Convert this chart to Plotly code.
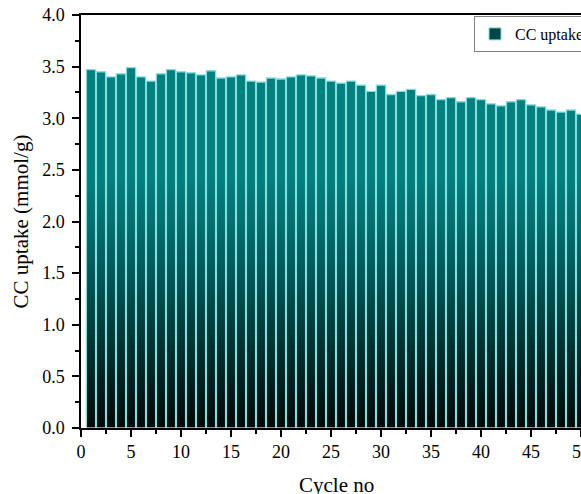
import numpy as np
import plotly.graph_objects as go

cycles = list(range(1, 51))
uptake = [3.47, 3.45, 3.40, 3.43, 3.49, 3.40, 3.36, 3.43, 3.47, 3.45,
          3.44, 3.42, 3.46, 3.39, 3.40, 3.42, 3.36, 3.35, 3.39, 3.38,
          3.40, 3.42, 3.41, 3.39, 3.36, 3.34, 3.36, 3.32, 3.26, 3.32,
          3.23, 3.26, 3.28, 3.22, 3.23, 3.18, 3.20, 3.16, 3.20, 3.18,
          3.14, 3.12, 3.16, 3.18, 3.13, 3.11, 3.08, 3.06, 3.08, 3.04]
series_name = "CC uptake"
x_ticks = [0, 5, 10, 15, 20, 25, 30, 35, 40, 45, 50]

FONT = "Liberation Serif"
EDGE = "#86dcdc"
# gradient stops (value level -> rgb)
grad_levels = [0.0, 0.5, 1.0, 1.5, 2.0, 2.4]
grad_colors = [(0, 8, 8), (0, 34, 34), (0, 62, 62), (0, 88, 88), (0, 112, 112), (0, 126, 126)]

def col_at(v):
    r = np.interp(v, grad_levels, [c[0] for c in grad_colors])
    g = np.interp(v, grad_levels, [c[1] for c in grad_colors])
    b = np.interp(v, grad_levels, [c[2] for c in grad_colors])
    return f"rgb({int(r)},{int(g)},{int(b)})"

vals = np.array(uptake)
fig = go.Figure()
BW = 0.92
step = 0.05
overlap = 0.03
top_level = 2.4
lo = 0.0
while lo < top_level - 1e-9:
    seg = np.clip(vals - lo, 0, step + overlap)
    fig.add_trace(go.Bar(x=cycles, y=seg, base=[lo] * len(cycles), width=BW,
                         marker=dict(color=col_at(lo + step / 2), line=dict(width=0)),
                         showlegend=False, hoverinfo="skip"))
    lo += step
seg = np.clip(vals - top_level, 0, None)
fig.add_trace(go.Bar(x=cycles, y=seg, base=[top_level] * len(cycles), width=BW,
                     marker=dict(color="rgb(0,127,127)", line=dict(width=0)),
                     showlegend=False, hoverinfo="skip"))
# outlines
fig.add_trace(go.Bar(x=cycles, y=uptake, width=BW,
                     marker=dict(color="rgba(0,0,0,0)", line=dict(color=EDGE, width=1.3)),
                     showlegend=False))
# legend entry
fig.add_trace(go.Bar(x=[None], y=[None], name=series_name,
                     marker=dict(color="rgb(0,70,70)", line=dict(color=EDGE, width=1))))

fig.update_layout(
    width=581, height=494,
    barmode="overlay",
    plot_bgcolor="white", paper_bgcolor="white",
    margin=dict(l=81, r=0, t=15, b=66, autoexpand=False),
    font=dict(family=FONT, size=18, color="black"),
    legend=dict(x=0.786, y=0.9976, xanchor="left", yanchor="top",
                bordercolor="#808080", borderwidth=1, bgcolor="white",
                font=dict(family=FONT, size=16), itemwidth=30,
                tracegroupgap=0),
    annotations=[dict(text="Cycle no", x=25.5, xref="x", y=-0.138, yref="paper",
                      showarrow=False, xanchor="center", yanchor="middle",
                      font=dict(family=FONT, size=21))],
)
fig.update_xaxes(range=[0, 50], tickvals=x_ticks, ticktext=[str(t) for t in x_ticks],
                 ticks="outside", ticklen=7, tickwidth=1.5, tickcolor="black",
                 minor=dict(dtick=2.5, tick0=0, ticks="outside", ticklen=4, tickwidth=1.5, tickcolor="black"),
                 showline=True, linecolor="black", linewidth=1.5, mirror=True,
                 showgrid=False, zeroline=False, automargin=False,
                 ticklabeloverflow="allow",
                 tickfont=dict(family=FONT, size=18))
fig.update_yaxes(range=[0, 4.0], dtick=0.5, tick0=0, tickformat=".1f",
                 ticks="outside", ticklen=7, tickwidth=1.5, tickcolor="black",
                 minor=dict(dtick=0.25, tick0=0, ticks="outside", ticklen=4, tickwidth=1.5, tickcolor="black"),
                 showline=True, linecolor="black", linewidth=1.5, mirror=True,
                 showgrid=False, zeroline=False, automargin=False,
                 ticklabelstandoff=4,
                 title=dict(text="CC uptake (mmol/g)", font=dict(family=FONT, size=21), standoff=8),
                 tickfont=dict(family=FONT, size=18))

fig.write_html("out.html", config={"displayModeBar": False},
               post_script="document.body.style.margin='0';document.body.style.overflow='hidden';")
